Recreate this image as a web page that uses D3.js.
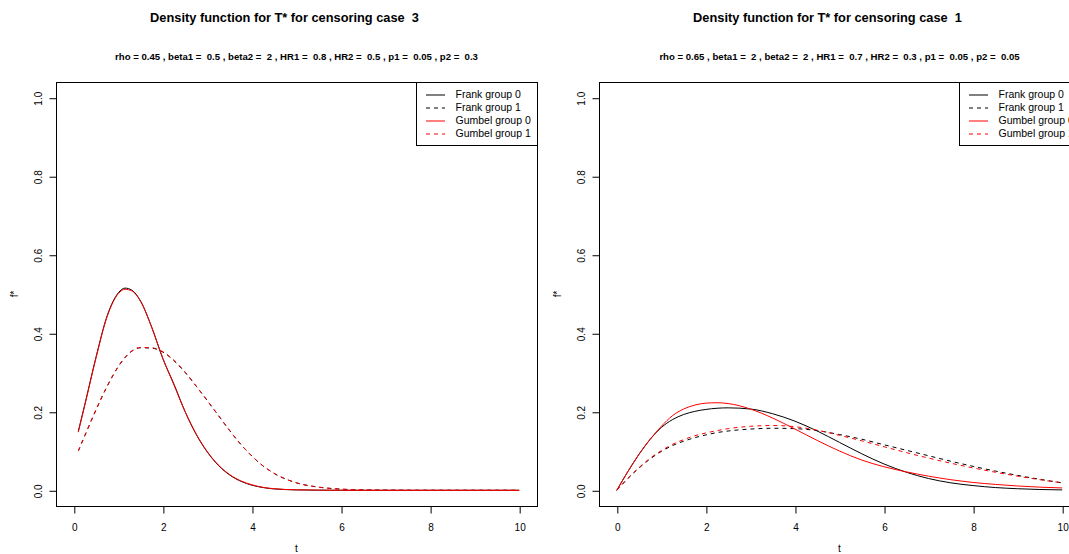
<!DOCTYPE html>
<html>
<head>
<meta charset="utf-8">
<script src="https://cdn.jsdelivr.net/npm/d3@7"></script>
<style>
  html, body { margin: 0; padding: 0; background: #fff; }
  svg { display: block; font-family: "Liberation Sans", Arial, Helvetica, sans-serif; }
  svg text { white-space: pre; }
</style>
</head>
<body>
<svg id="chart" width="1069" height="554"></svg>
<script>
// ---------------- data ----------------
const seriesNames = ["Frank group 0", "Frank group 1", "Gumbel group 0", "Gumbel group 1"];
const xTicks = [0, 2, 4, 6, 8, 10];
const yTicks = [0, 0.2, 0.4, 0.6, 0.8, 1.0];

// Left panel: censoring case 3
const titleLeft = "Density function for T* for censoring case  3";
const subLeft = "rho = 0.45 , beta1 =  0.5 , beta2 =  2 , HR1 =  0.8 , HR2 =  0.5 , p1 =  0.05 , p2 =  0.3";
const tLeft = [0.1, 0.25, 0.5, 0.75, 1.0, 1.15, 1.3, 1.5, 1.75, 2.0, 2.25, 2.5, 2.75, 3.0, 3.25, 3.5, 3.75, 4.0, 4.25, 4.5, 5.0, 5.5, 6.0, 6.5, 7.0, 8.0, 9.0, 10.0];
const frank0Left = [0.15, 0.22, 0.34, 0.445, 0.503, 0.515, 0.51, 0.482, 0.415, 0.335, 0.27, 0.2, 0.142, 0.097, 0.063, 0.039, 0.023, 0.013, 0.007, 0.0035, 0.001, 0.0003, 0, 0, 0, 0, 0, 0];
const frank1Left = [0.10, 0.14, 0.205, 0.265, 0.315, 0.338, 0.354, 0.363, 0.362, 0.352, 0.33, 0.3, 0.265, 0.228, 0.19, 0.152, 0.117, 0.087, 0.062, 0.043, 0.019, 0.008, 0.003, 0.001, 0.0004, 0, 0, 0];
const gumbel0Left = [0.148, 0.218, 0.338, 0.443, 0.501, 0.512, 0.508, 0.481, 0.415, 0.336, 0.268, 0.2, 0.143, 0.098, 0.064, 0.04, 0.024, 0.014, 0.0075, 0.004, 0.0012, 0.0004, 0.0001, 0, 0, 0, 0, 0];
const gumbel1Left = [0.10, 0.14, 0.206, 0.266, 0.316, 0.339, 0.355, 0.364, 0.363, 0.353, 0.331, 0.301, 0.265, 0.228, 0.19, 0.152, 0.117, 0.087, 0.062, 0.043, 0.019, 0.008, 0.003, 0.001, 0.0004, 0, 0, 0];

// Right panel: censoring case 1
const titleRight = "Density function for T* for censoring case  1";
const subRight = "rho = 0.65 , beta1 =  2 , beta2 =  2 , HR1 =  0.7 , HR2 =  0.3 , p1 =  0.05 , p2 =  0.05";
const tRight = [0, 0.25, 0.5, 0.75, 1.0, 1.25, 1.5, 1.75, 2.0, 2.25, 2.5, 3.0, 3.5, 4.0, 4.5, 5.0, 5.5, 6.0, 6.5, 7.0, 7.5, 8.0, 8.5, 9.0, 9.5, 10];
const frank0Right = [0, 0.048, 0.092, 0.13, 0.16, 0.18, 0.193, 0.201, 0.206, 0.209, 0.21, 0.207, 0.195, 0.176, 0.151, 0.122, 0.093, 0.067, 0.046, 0.03, 0.019, 0.012, 0.007, 0.004, 0.002, 0.001];
const frank1Right = [0, 0.03, 0.057, 0.08, 0.099, 0.114, 0.125, 0.134, 0.141, 0.147, 0.151, 0.156, 0.158, 0.157, 0.152, 0.142, 0.13, 0.116, 0.102, 0.088, 0.074, 0.061, 0.049, 0.038, 0.028, 0.019];
const gumbel0Right = [0, 0.048, 0.092, 0.13, 0.163, 0.19, 0.207, 0.217, 0.222, 0.223, 0.221, 0.207, 0.184, 0.156, 0.127, 0.1, 0.077, 0.06, 0.047, 0.036, 0.027, 0.02, 0.015, 0.011, 0.008, 0.006];
const gumbel1Right = [0, 0.031, 0.058, 0.082, 0.101, 0.117, 0.129, 0.139, 0.146, 0.152, 0.157, 0.163, 0.165, 0.162, 0.153, 0.14, 0.126, 0.111, 0.096, 0.082, 0.069, 0.057, 0.046, 0.036, 0.027, 0.019];

// ---------------- styles ----------------
const seriesColor = ["#000000", "#000000", "#ff0000", "#ff0000"];
const seriesDash = [null, "4,4", null, "4,4"];

const svg = d3.select("#chart");

function drawPanel(opt) {
  const { left, right, top, bottom } = opt;
  const x = d3.scaleLinear().domain([-0.4, 10.4]).range([left, right]);
  const y = d3.scaleLinear().domain([-0.04, 1.04]).range([bottom, top]);
  const g = svg.append("g");

  // titles
  g.append("text").attr("x", (left + right) / 2 - 12).attr("y", 22)
    .attr("text-anchor", "middle").attr("font-weight", "bold").attr("font-size", 12.8)
    .attr("fill", "#000").text(opt.title);
  g.append("text").attr("x", (left + right) / 2).attr("y", 60)
    .attr("text-anchor", "middle").attr("font-weight", "bold").attr("font-size", 9.6)
    .attr("fill", "#000").text(opt.sub);

  // curves
  const line = d3.line().x(d => x(d[0])).y(d => y(d[1])).curve(d3.curveMonotoneX);
  opt.series.forEach((vals, i) => {
    const pts = opt.t.map((tv, k) => [tv, vals[k]]);
    g.append("path").datum(pts).attr("d", line)
      .attr("fill", "none").attr("stroke", seriesColor[i]).attr("stroke-width", 1)
      .attr("stroke-dasharray", seriesDash[i]);
  });

  // box
  g.append("rect").attr("x", left + 0.5).attr("y", top + 0.5)
    .attr("width", right - left).attr("height", bottom - top)
    .attr("fill", "none").attr("stroke", "#000").attr("stroke-width", 1);

  // x axis
  const xAxis = d3.axisBottom(x).tickValues(xTicks).tickSize(7).tickPadding(10)
    .tickFormat(d3.format("d"));
  const gx = g.append("g").attr("transform", `translate(0.5,${bottom + 0.5})`).call(xAxis);
  gx.select(".domain").attr("d", `M${x(xTicks[0])},0H${x(xTicks[xTicks.length - 1])}`).attr("stroke", "#000");
  gx.selectAll(".tick line").attr("stroke", "#000");
  gx.selectAll(".tick text").attr("font-size", 10).attr("fill", "#000")
    .attr("font-family", "Liberation Sans, Arial, sans-serif");

  // y axis
  const yAxis = d3.axisLeft(y).tickValues(yTicks).tickSize(7).tickPadding(0)
    .tickFormat(d3.format(".1f"));
  const gy = g.append("g").attr("transform", `translate(${left + 0.5},0.5)`).call(yAxis);
  gy.select(".domain").attr("d", `M0,${y(yTicks[0])}V${y(yTicks[yTicks.length - 1])}`).attr("stroke", "#000");
  gy.selectAll(".tick line").attr("stroke", "#000");
  gy.selectAll(".tick text")
    .attr("font-size", 10).attr("fill", "#000")
    .attr("font-family", "Liberation Sans, Arial, sans-serif")
    .attr("x", null).attr("dy", "0.35em").attr("text-anchor", "middle")
    .attr("transform", "translate(-18,0) rotate(-90)");

  // axis labels
  g.append("text").attr("x", (left + right) / 2).attr("y", 552)
    .attr("text-anchor", "middle").attr("font-size", 10).attr("fill", "#000").text("t");
  g.append("text").attr("transform", `translate(${left - 42},${(top + bottom) / 2}) rotate(-90)`)
    .attr("dy", "0.35em").attr("text-anchor", "middle").attr("font-size", 10).attr("fill", "#000").text("f*");

  // legend
  const lgW = 121, lgH = 63;
  const lx = right - lgW, ly = top;
  const lg = g.append("g");
  lg.append("rect").attr("x", lx + 0.5).attr("y", ly + 0.5).attr("width", lgW).attr("height", lgH)
    .attr("fill", "#fff").attr("stroke", "#000").attr("stroke-width", 1);
  seriesNames.forEach((name, i) => {
    const cy = ly + 12.5 + i * 13;
    lg.append("line").attr("x1", lx + 10).attr("x2", lx + 29).attr("y1", cy + 0.5).attr("y2", cy + 0.5)
      .attr("stroke", seriesColor[i]).attr("stroke-width", 1).attr("stroke-dasharray", seriesDash[i]);
    lg.append("text").attr("x", lx + 39.5).attr("y", cy).attr("dy", "0.35em")
      .attr("font-size", 10.5).attr("fill", "#000").text(name);
  });
}

drawPanel({ left: 56, right: 537, top: 82, bottom: 506, title: titleLeft, sub: subLeft,
  t: tLeft, series: [frank0Left, frank1Left, gumbel0Left, gumbel1Left] });
drawPanel({ left: 599, right: 1080, top: 82, bottom: 506, title: titleRight, sub: subRight,
  t: tRight, series: [frank0Right, frank1Right, gumbel0Right, gumbel1Right] });
</script>
</body>
</html>
